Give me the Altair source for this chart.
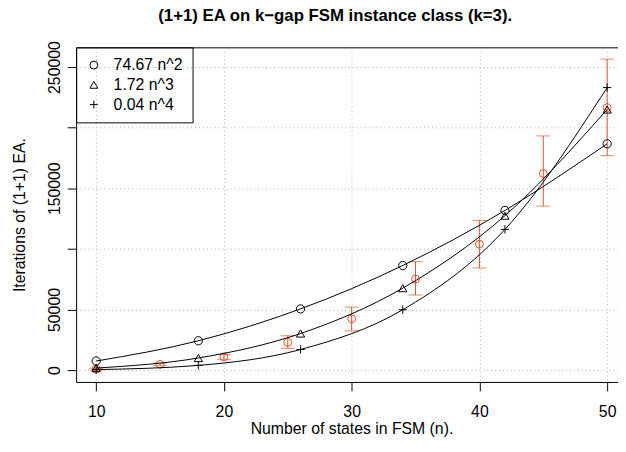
import altair as alt
import pandas as pd

# fitted model markers
fit_n = [10, 18, 26, 34, 42, 50]
sq_vals = [7500, 24200, 50500, 86300, 131700, 186700]
cube_vals = [1700, 10000, 30200, 67600, 127400, 215000]
quart_vals = [400, 3900, 17000, 49800, 116100, 233100]
series_labels = ["74.67 n^2", "1.72 n^3", "0.04 n^4"]

# empirical means with error bars
obs_n = [10, 15, 20, 25, 30, 35, 40, 45, 50]
obs_mean = [800, 4700, 10900, 22900, 42400, 75100, 103900, 162200, 216600]
obs_low = [0, 3700, 8900, 17900, 32400, 62000, 84300, 135300, 176900]
obs_high = [1600, 5700, 12900, 28300, 52000, 89500, 123500, 193200, 256600]

x_ticks = [10, 20, 30, 40, 50]
y_ticks = [0, 50000, 100000, 150000, 200000, 250000]

FONT = "Liberation Sans"
RED = "#EC4D27"
PLUS = "M-1,0L1,0M0,-1L0,1"

rows = []
for lab, vals in zip(series_labels, [sq_vals, cube_vals, quart_vals]):
    for n, v in zip(fit_n, vals):
        rows.append({"n": n, "v": v, "series": lab})
fit_df = pd.DataFrame(rows)
obs_df = pd.DataFrame({"n": obs_n, "mean": obs_mean, "low": obs_low, "high": obs_high})

xs = alt.Scale(domain=[8.43, 50.85], nice=False, zero=False)
ys = alt.Scale(domain=[-9772, 266287], nice=False, zero=False)

x_axis = alt.Axis(values=x_ticks, title="Number of states in FSM (n).", grid=True,
                  titleX=279, titleY=47, titleBaseline="middle", titleAlign="center",
                  labelPadding=13)
y_axis = alt.Axis(values=y_ticks, title="Iterations of (1+1) EA.", grid=True, format="d",
                  labelExpr="datum.value == 100000 || datum.value == 200000 ? '' : datum.label",
                  labelAngle=270, labelAlign="center", labelBaseline="bottom", labelPadding=5,
                  titleAngle=270, titleX=-57, titleY=169.5, titleAlign="center",
                  titleBaseline="middle")

base_x = alt.X("n:Q", scale=xs, axis=x_axis)

err = alt.Chart(obs_df).mark_rule(color=RED, strokeWidth=1).encode(
    x=base_x, y=alt.Y("low:Q", scale=ys, axis=y_axis), y2="high:Q")
cap_lo = alt.Chart(obs_df).mark_tick(color=RED, orient="horizontal", size=14, thickness=1).encode(
    x="n:Q", y=alt.Y("low:Q"))
cap_hi = alt.Chart(obs_df).mark_tick(color=RED, orient="horizontal", size=14, thickness=1).encode(
    x="n:Q", y=alt.Y("high:Q"))
obs_pts = alt.Chart(obs_df).mark_point(color=RED, shape="circle", size=64, strokeWidth=1,
                                       filled=False, opacity=1).encode(x="n:Q", y="mean:Q")

lines = alt.Chart(fit_df).mark_line(color="black", strokeWidth=1, interpolate="monotone").encode(
    x="n:Q", y="v:Q", detail="series:N")
pts = alt.Chart(fit_df).mark_point(color="black", filled=False, strokeWidth=1, opacity=1,
                                   size=70).encode(
    x="n:Q", y="v:Q",
    shape=alt.Shape("series:N", sort=series_labels,
                    scale=alt.Scale(domain=series_labels, range=["circle", "triangle-up", PLUS]),
                    legend=alt.Legend(title=None, orient="top-left", offset=0, padding=10,
                                      strokeColor="black", symbolSize=64, symbolStrokeWidth=1,
                                      symbolStrokeColor="black", symbolFillColor="transparent",
                                      labelFontSize=16, labelFont=FONT, labelOffset=12,
                                      rowPadding=4, labelColor="black")),
)

chart = alt.layer(err, cap_lo, cap_hi, obs_pts, lines, pts).properties(
    width=549, height=339,
    background="white",
    title=alt.TitleParams("(1+1) EA on k\u2212gap FSM instance class (k=3).", font=FONT,
                          fontSize=17, fontWeight="bold", frame="group", anchor="middle",
                          dx=-12, dy=21, offset=24, baseline="alphabetic", color="black"),
    autosize=alt.AutoSizeParams(type="none"),
    padding={"left": 69, "top": 37, "right": 0, "bottom": 60},
).configure_view(stroke="black", strokeWidth=1).configure_axis(
    domain=False, tickColor="black", tickSize=9, tickWidth=1,
    labelFont=FONT, labelFontSize=16, labelColor="black",
    titleFont=FONT, titleFontSize=16, titleColor="black", titleFontWeight="normal",
    gridColor="#b0b0b0", gridDash=[1, 3], gridWidth=1,
)

chart.save("out.html", embed_options={"renderer": "svg", "actions": False})
